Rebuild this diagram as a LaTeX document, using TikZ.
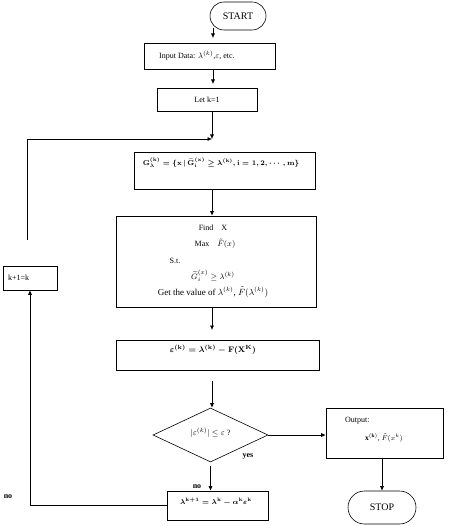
\documentclass[tikz,border=0pt]{standalone}
\usepackage{amsmath,amssymb}
\usepackage{fontspec}
\setmainfont{Liberation Serif}
\usetikzlibrary{shapes.geometric,arrows.meta}
\tikzset{
  box/.style={draw, line width=0.6pt, inner sep=0pt},
  txt/.style={font=\fontsize{8}{10}\selectfont, inner sep=0pt},
  big/.style={font=\fontsize{10}{12}\selectfont},
  lbl/.style={font=\fontsize{8}{10}\selectfont\bfseries, inner sep=0pt},
  arr/.style={-{Latex[length=4.5pt,width=4pt]}, line width=0.6pt}
}
\begin{document}
\begin{tikzpicture}[x=1pt,y=-1pt]
\useasboundingbox (0,0) rectangle (463,526);
% nodes
\node[box, big, minimum width=56pt, minimum height=28pt, rounded corners=14pt] (start) at (238,16) {START};
\node[box, minimum width=131pt, minimum height=26pt] (input) at (209.5,56) {};
\node[txt, anchor=west] (inputtxt) at (159,56) {Input Data: $\lambda^{(k)}$,$\varepsilon$, etc.};
\node[box, txt, minimum width=100pt, minimum height=23pt] (let) at (207,99.5) {Let k=1};
\node[box, minimum width=181pt, minimum height=37pt] (gbox) at (224.5,170.5) {};
\node[txt, font=\fontsize{6.6}{8}\selectfont] (gtxt) at (221,163) {{\boldmath$\mathbf{G}_{\lambda}^{(\mathbf{k})}=\{\mathbf{x}\,|\,\widetilde{\mathbf{G}}_{\mathbf{i}}^{(\mathbf{x})}\ge\lambda^{(\mathbf{k})},\mathbf{i}=1,2,\cdots,\mathbf{m}\}$}};
\node[box, minimum width=200pt, minimum height=91pt] (find) at (216,261.5) {};
\node[txt] (f1) at (213,228) {Find\quad X};
\node[txt] (f2) at (215,244) {Max\quad $\tilde{F}(x)$};
\node[txt] (f3) at (175,261) {S.t.};
\node[txt] (f4) at (213,276) {$\widetilde{G}_i^{(x)}\ge\lambda^{(k)}$};
\node[txt, font=\fontsize{9}{11}\selectfont] (f5) at (213,292) {Get the value of $\lambda^{(k)}$, $\tilde{F}(\lambda^{(k)})$};
\node[box, minimum width=203pt, minimum height=30pt] (eps) at (217.5,355) {};
\node[txt] (epstxt) at (213,350) {{\boldmath$\varepsilon^{(\mathbf{k})}=\lambda^{(\mathbf{k})}-\mathbf{F}(\mathbf{X}^{\mathbf{K}})$}};
\node[box, diamond, minimum width=115pt, minimum height=54pt] (dia) at (210.5,435) {};
\node[txt] (diatxt) at (210.5,433) {$|\varepsilon^{(k)}|\le\varepsilon$ ?};
\node[box, minimum width=117pt, minimum height=50pt] (out) at (384.5,433) {};
\node[txt, anchor=west] (out1) at (345,421) {Output:};
\node[txt, font=\fontsize{7.5}{9}\selectfont] (out2) at (384,438) {$\mathbf{x}^{(\mathbf{k})}$, $\tilde{F}(x^{k})$};
\node[box, big, minimum width=68pt, minimum height=33pt, rounded corners=16.5pt] (stop) at (382,507.5) {STOP};
\node[box, minimum width=101pt, minimum height=29pt] (lam) at (217.5,505.5) {};
\node[txt, font=\fontsize{7.3}{9}\selectfont] (lamtxt) at (216,502) {{\boldmath$\lambda^{\mathbf{k}+1}=\lambda^{\mathbf{k}}-\alpha^{\mathbf{k}}\varepsilon^{\mathbf{k}}$}};
\node[box, minimum width=54pt, minimum height=24pt] (kbox) at (30,278) {};
\node[txt, anchor=west] (ktxt) at (8,278) {k+1=k};
% labels
\node[lbl] (yes) at (248,456) {yes};
\node[lbl] (no1) at (197,487) {no};
\node[lbl] (no2) at (8,497) {no};
% coordinates
\coordinate (c0) at (213,28);
\coordinate (c0b) at (213,38);
\coordinate (c1) at (213,69);
\coordinate (c1b) at (213,84);
\coordinate (j1) at (212,139);
\coordinate (lp1) at (27,139);
\coordinate (lp2) at (27,240);
\coordinate (c2) at (212,330);
\coordinate (c3) at (212,381);
% connectors
\draw[arr] (c0) -- (c0b);
\draw[arr] (c1) -- (c1b);
\draw[arr] (let.south -| j1) -- (j1);
\draw[arr] (lp2) -- (lp1) -- (j1);
\draw[arr] (gbox.south -| j1) -- (find.north -| j1);
\draw[arr] (find.south -| j1) -- (c2);
\draw[arr] (c3) -- (c3 |- dia.north);
\draw[arr] (dia.east) -- (dia.east -| out.west);
\draw[arr] (out.south -| stop.north) -- (stop.north);
\draw[arr] ([yshift=-4pt]dia.south) -- (lam.north -| dia.south);
\draw[arr] (lam.west) -| (kbox.south);
\end{tikzpicture}
\end{document}
